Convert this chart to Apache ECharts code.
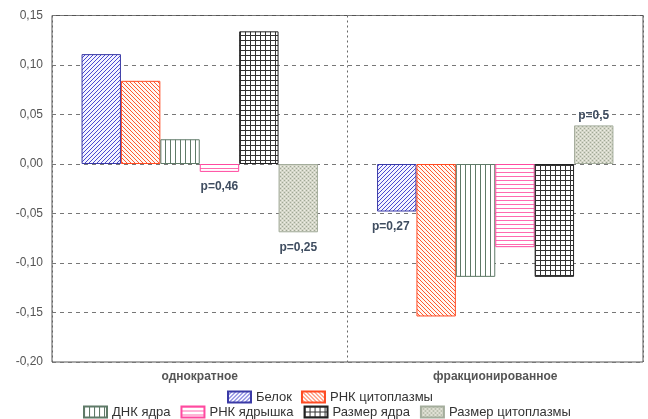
<!DOCTYPE html>
<html><head><meta charset="utf-8">
<script src="https://cdn.jsdelivr.net/npm/echarts@6/dist/echarts.min.js"></script>
<style>html,body{margin:0;padding:0;background:#fff}#c{width:648px;height:419px}</style>
</head><body><div id="c"></div>
<script>
var categories = ['однократное', 'фракционированное'];
var seriesNames = ['Белок', 'РНК цитоплазмы', 'ДНК ядра', 'РНК ядрышка', 'Размер ядра', 'Размер цитоплазмы'];
var belok = [0.111, -0.048];
var rnkCyto = [0.084, -0.154];
var dnkNucleus = [0.025, -0.114];
var rnkNucleolus = [-0.008, -0.084];
var nucleusSize = [0.134, -0.114];
var cytoSize = [-0.069, 0.039];
// p-value annotations: [seriesIndex, categoryIndex, text]
var pNotes = [[3, 0, 'p=0,46'], [5, 0, 'p=0,25'], [0, 1, 'p=0,27'], [5, 1, 'p=0,5']];
var yTicks = [-0.20, -0.15, -0.10, -0.05, 0.00, 0.05, 0.10, 0.15];

function mk(w, h, bg, draw) {
  var c = document.createElement('canvas'); c.width = w; c.height = h;
  var g = c.getContext('2d'); g.fillStyle = bg; g.fillRect(0, 0, w, h);
  draw(g); return { image: c, repeat: 'repeat' };
}
function diag(color, bg, dir, n) {
  return mk(n, n, bg, function (g) {
    g.fillStyle = color;
    for (var i = 0; i < n; i++) g.fillRect(i, dir > 0 ? n - 1 - i : i, 1, 1);
  });
}
var patterns = [
  diag('#4a4ad0', '#f4f4ff', 1, 4),
  diag('#ff5a30', '#fff8f4', -1, 4),
  mk(5, 5, '#ffffff', function (g) { g.fillStyle = '#5f7a68'; g.fillRect(0, 0, 1, 5); }),
  mk(4, 4, '#ffffff', function (g) { g.fillStyle = '#ff6ab0'; g.fillRect(0, 0, 4, 1); }),
  mk(5, 5, '#ffffff', function (g) { g.fillStyle = '#333'; g.fillRect(0, 0, 1, 5); g.fillRect(0, 0, 5, 1); }),
  mk(4, 4, '#d4d6c8', function (g) { g.fillStyle = '#a0a896'; g.fillRect(0, 0, 1, 1); g.fillRect(2, 2, 1, 1); g.fillStyle = '#eeeee6'; g.fillRect(2, 0, 1, 1); g.fillRect(0, 2, 1, 1); })
];
var borders = ['#3a3aa6', '#ff4a22', '#5f7a68', '#ff4aa0', '#222222', '#a4ad9c'];
var values = [belok, rnkCyto, dnkNucleus, rnkNucleolus, nucleusSize, cytoSize];

var series = values.map(function (vals, si) {
  return {
    name: seriesNames[si], type: 'bar', barGap: '0%', barCategoryGap: '20%',
    itemStyle: { color: patterns[si], borderColor: borders[si], borderWidth: 1 },
    data: vals.map(function (v, ci) {
      var d = { value: v };
      pNotes.forEach(function (p) {
        if (p[0] === si && p[1] === ci) {
          d.label = { show: true, formatter: p[2], position: v < 0 ? 'bottom' : 'top',
            distance: v < 0 ? 9 : 4, offset: (si === 0 && ci === 1) ? [-6, 0] : [0, 0],
            color: '#3f4d60', fontWeight: 'bold', fontSize: 12, fontFamily: 'Liberation Sans, Arial' };
        }
      });
      return d;
    })
  };
});

var chart = echarts.init(document.getElementById('c'), null, { renderer: 'canvas' });
chart.setOption({
  animation: false,
  textStyle: { fontFamily: 'Liberation Sans, Arial' },
  grid: { left: 52, right: 5, top: 15.5, bottom: 57, show: true, borderColor: '#555', borderWidth: 1 },
  legend: [
    { data: seriesNames.slice(0, 2), top: 390.5, left: 227, padding: 0, icon: 'rect',
      itemWidth: 23, itemHeight: 11, itemGap: 9,
      textStyle: { fontSize: 13, color: '#333' } },
    { data: seriesNames.slice(2), top: 405.5, left: 83, padding: 0, icon: 'rect',
      itemWidth: 23, itemHeight: 11, itemGap: 10,
      textStyle: { fontSize: 13, color: '#333' } }
  ],
  xAxis: {
    type: 'category', data: categories,
    axisLine: { show: false }, axisTick: { show: false },
    axisLabel: { color: '#555', fontSize: 12, fontWeight: 'bold', margin: 9 },
    splitLine: { show: true, lineStyle: { color: '#666', type: [2, 3] } }
  },
  yAxis: {
    type: 'value', min: -0.20, max: 0.15, interval: 0.05,
    axisLine: { show: false }, axisTick: { show: false },
    axisLabel: { color: '#555', fontSize: 12, margin: 9,
      formatter: function (v) { return v.toFixed(2).replace('.', ','); } },
    splitLine: { show: true, lineStyle: { color: '#777', type: [4, 4] } }
  },
  series: series
});
</script></body></html>
